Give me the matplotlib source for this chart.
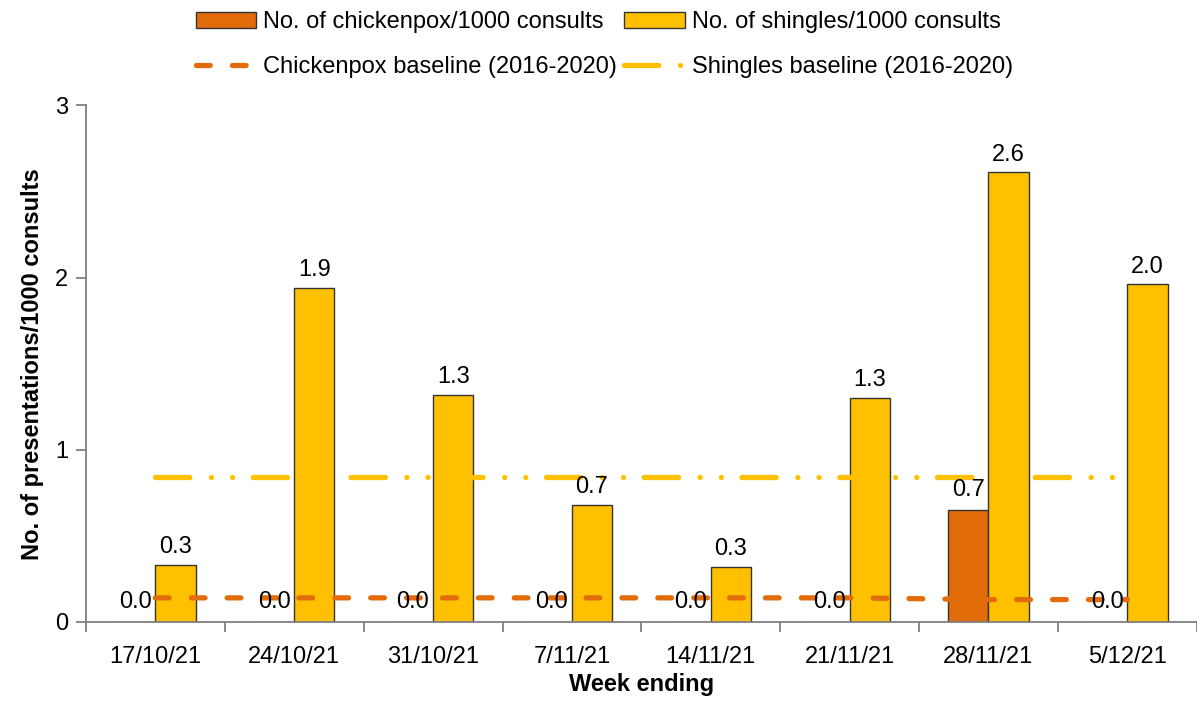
import numpy as np
import matplotlib.pyplot as plt
from matplotlib.lines import Line2D
from matplotlib.patches import Patch

plt.rcParams['font.family'] = ['Liberation Sans', 'DejaVu Sans']

weeks = ['17/10/21', '24/10/21', '31/10/21', '7/11/21', '14/11/21',
         '21/11/21', '28/11/21', '5/12/21']
chickenpox = [0.0, 0.0, 0.0, 0.0, 0.0, 0.0, 0.65, 0.0]
shingles = [0.33, 1.94, 1.32, 0.68, 0.32, 1.30, 2.61, 1.96]
chickenpox_base = [0.14, 0.14, 0.14, 0.14, 0.14, 0.14, 0.13, 0.13]
shingles_base = [0.84, 0.84, 0.84, 0.84, 0.84, 0.84, 0.84, 0.84]

c_pox = '#E36C0A'
c_shing = '#FFC000'
grey = '#808080'
fs = 17

# dash patterns (in units of line width, round caps)
pox_dash = (2.6, 4.2)
shing_dash = (6.5, 4.1, 0.01, 4.0, 0.01, 3.9)
lw = 3.8

fig = plt.figure(figsize=(11.97, 7.02), dpi=100)
ax = fig.add_axes([0.0718, 0.114, 0.928, 0.736])

x = np.arange(len(weeks))
w = 0.29
ax.bar(x - w / 2, chickenpox, w, color=c_pox, edgecolor='#333333', linewidth=1, zorder=2)
ax.bar(x + w / 2, shingles, w, color=c_shing, edgecolor='#333333', linewidth=1, zorder=2)

ax.plot(x, chickenpox_base, color=c_pox, lw=lw, dashes=pox_dash, dash_capstyle='round', zorder=3)
ax.plot(x, shingles_base, color=c_shing, lw=lw, dashes=shing_dash, dash_capstyle='round', zorder=3)

for xi, v in zip(x, chickenpox):
    ax.text(xi - w / 2, v + 0.05, f'{v:.1f}', ha='center', va='bottom', fontsize=fs, zorder=4)
for xi, v in zip(x, shingles):
    ax.text(xi + w / 2, v + 0.04, f'{v:.1f}', ha='center', va='bottom', fontsize=fs, zorder=4)

ax.set_xlim(-0.5, len(weeks) - 0.5)
ax.set_ylim(0, 3)
ax.set_yticks([0, 1, 2, 3])
ax.set_xticks(x)
ax.set_xticklabels(weeks, fontsize=fs)
ax.set_xticks(np.arange(-0.5, len(weeks), 1), minor=True)
ax.tick_params(axis='x', which='major', length=0, pad=17)
ax.tick_params(axis='x', which='minor', length=7, color=grey, width=1.3)
ax.tick_params(axis='y', labelsize=fs, length=7, color=grey, width=1.3, pad=6)

for s in ['top', 'right']:
    ax.spines[s].set_visible(False)
for s in ['left', 'bottom']:
    ax.spines[s].set_color(grey)
    ax.spines[s].set_linewidth(1.3)

ax.set_xlabel('Week ending', fontsize=fs, fontweight='bold', labelpad=4)
ax.set_ylabel('No. of presentations/1000 consults', fontsize=fs, fontweight='bold', labelpad=8)

handles = [
    Patch(facecolor=c_pox, edgecolor='#333333', label='No. of chickenpox/1000 consults'),
    Patch(facecolor=c_shing, edgecolor='#333333', label='No. of shingles/1000 consults'),
    Line2D([], [], color=c_pox, lw=lw, dashes=pox_dash, dash_capstyle='round',
           label='Chickenpox baseline (2016-2020)'),
    Line2D([], [], color=c_shing, lw=lw, dashes=shing_dash, dash_capstyle='round',
           label='Shingles baseline (2016-2020)'),
]
order = [0, 2, 1, 3]
fig.legend([handles[i] for i in order], [handles[i].get_label() for i in order],
           ncol=2, loc='upper center', bbox_to_anchor=(0.505, 1.014), frameon=False,
           fontsize=fs, handlelength=2.55, handletextpad=0.3, columnspacing=0.3,
           labelspacing=0.95)

fig.savefig('out.png', dpi=100)
